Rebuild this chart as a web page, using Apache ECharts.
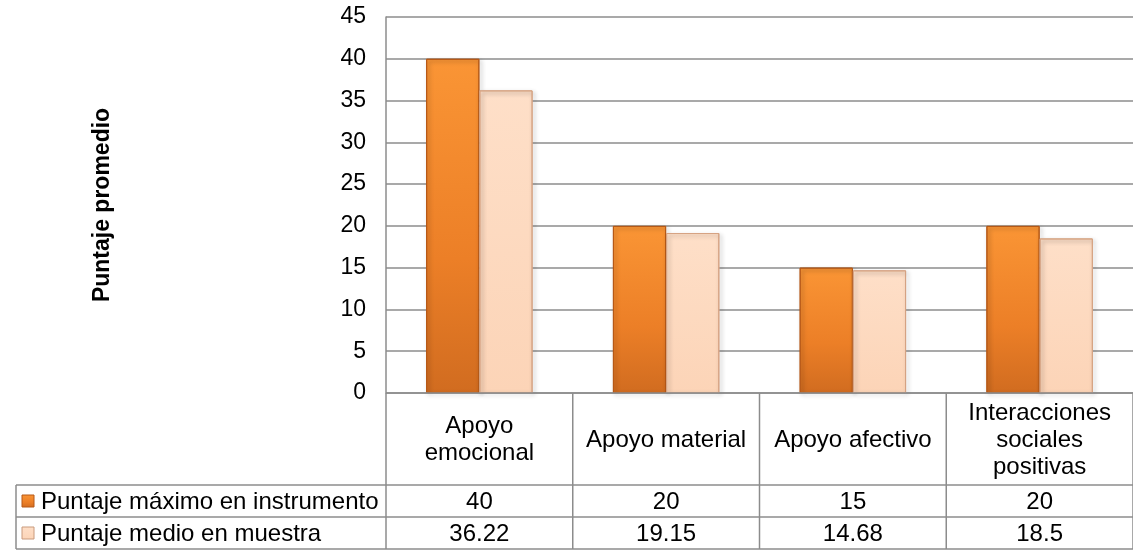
<!DOCTYPE html>
<html>
<head>
<meta charset="utf-8">
<script src="https://cdn.jsdelivr.net/npm/echarts@6/dist/echarts.min.js"></script>
<style>
  html, body { margin: 0; padding: 0; background: #fff; }
  #chart { width: 1133px; height: 552px; }
</style>
</head>
<body>
<div id="chart"></div>
<script>
// Categories (table header text, with line breaks as shown in the cells)
const categories = ['Apoyo\nemocional', 'Apoyo material', 'Apoyo afectivo', 'Interacciones\nsociales\npositivas'];
// Series
const seriesNames = ['Puntaje máximo en instrumento', 'Puntaje medio en muestra'];
const maxScores = [40, 20, 15, 20];
const meanScores = [36.22, 19.15, 14.68, 18.5];
// Value axis
const yMin = 0, yMax = 45, yStep = 5;

const FONT = '"Liberation Sans", Arial, sans-serif';
const FS = 24;
const LINE = '#8c8c8c';

const orangeFill = new echarts.graphic.LinearGradient(0, 0, 0, 1, [
  { offset: 0, color: '#fa9535' },
  { offset: 0.6, color: '#ec7f27' },
  { offset: 1, color: '#d16c20' }
]);
const peachFill = new echarts.graphic.LinearGradient(0, 0, 0, 1, [
  { offset: 0, color: '#fedfc8' },
  { offset: 1, color: '#fcd4b7' }
]);

const chart = echarts.init(document.getElementById('chart'), null, { renderer: 'canvas' });

const gridBox = { left: 386, top: 17, right: -2, bottom: 159 };

chart.setOption({
  animation: false,
  textStyle: { fontFamily: FONT },
  grid: gridBox,
  xAxis: {
    type: 'category',
    data: categories,
    axisLine: { show: false },
    axisTick: { show: false },
    axisLabel: { show: false },
    splitLine: { show: false }
  },
  yAxis: {
    type: 'value',
    min: yMin, max: yMax, interval: yStep,
    name: 'Puntaje promedio',
    nameLocation: 'middle',
    nameGap: 272,
    nameRotate: 90,
    nameTextStyle: { fontFamily: FONT, fontSize: 23, fontWeight: 'bold', color: '#000' },
    axisLine: { show: true, lineStyle: { color: LINE, width: 1.5 } },
    axisTick: { show: false },
    axisLabel: { fontFamily: FONT, fontSize: 23, color: '#000', margin: 20 },
    splitLine: { show: true, lineStyle: { color: LINE, width: 1.5 } }
  },
  series: [
    {
      name: seriesNames[0], type: 'bar', data: maxScores,
      barGap: '0%', barCategoryGap: '43%',
      itemStyle: {
        color: orangeFill, borderColor: '#b65816', borderWidth: 1,
        shadowColor: 'rgba(0,0,0,0.3)', shadowBlur: 4, shadowOffsetX: 2, shadowOffsetY: 2
      }
    },
    {
      name: seriesNames[1], type: 'bar', data: meanScores,
      itemStyle: {
        color: peachFill, borderColor: '#d6a383', borderWidth: 1,
        shadowColor: 'rgba(0,0,0,0.3)', shadowBlur: 4, shadowOffsetX: 2, shadowOffsetY: 2
      }
    }
  ]
});

// Data table drawn under the plot, aligned to the category bands
function drawTable() {
  const c0 = chart.convertToPixel({ xAxisIndex: 0 }, 0);
  const c1 = chart.convertToPixel({ xAxisIndex: 0 }, 1);
  const band = c1 - c0;
  const left = c0 - band / 2;
  const right = left + band * categories.length;
  const yTop = chart.convertToPixel({ yAxisIndex: 0 }, yMin);
  const headerH = 92, rowH = 32;
  const tableLeft = 16;
  const r1 = yTop + headerH, r2 = r1 + rowH, r3 = r2 + rowH;
  const els = [];
  const line = (x1, y1, x2, y2) => els.push({
    type: 'line', shape: { x1, y1, x2, y2 },
    style: { stroke: LINE, lineWidth: 1.5 }, z: 10
  });
  // horizontal rules
  line(left, yTop, right, yTop);
  line(tableLeft, r1, right, r1);
  line(tableLeft, r2, right, r2);
  line(tableLeft, r3, right, r3);
  // vertical rules
  line(tableLeft, r1, tableLeft, r3);
  for (let i = 0; i <= categories.length; i++) {
    const x = left + band * i;
    line(x, yTop, x, r3);
  }
  const txt = (text, x, y, align) => els.push({
    type: 'text', x, y, z: 11,
    style: { text, fill: '#000', font: FS + 'px ' + FONT, align: align || 'center', verticalAlign: 'middle', lineHeight: 27 }
  });
  categories.forEach((cat, i) => {
    const cx = left + band * (i + 0.5);
    txt(cat, cx, yTop + headerH / 2 + 1);
    txt(String(maxScores[i]), cx, r1 + rowH / 2 + 1);
    txt(String(meanScores[i]), cx, r2 + rowH / 2 + 1);
  });
  // legend keys and series names
  [[orangeFill, '#b65816', r1], [peachFill, '#c99a7c', r2]].forEach(([fill, stroke, ry], k) => {
    els.push({
      type: 'rect', shape: { x: 22, y: ry + rowH / 2 - 6, width: 12, height: 12 },
      style: { fill, stroke, lineWidth: 1 }, z: 11
    });
    txt(seriesNames[k], 41, ry + rowH / 2 + 1, 'left');
  });
  chart.setOption({ graphic: { elements: els } });
}
drawTable();
</script>
</body>
</html>
